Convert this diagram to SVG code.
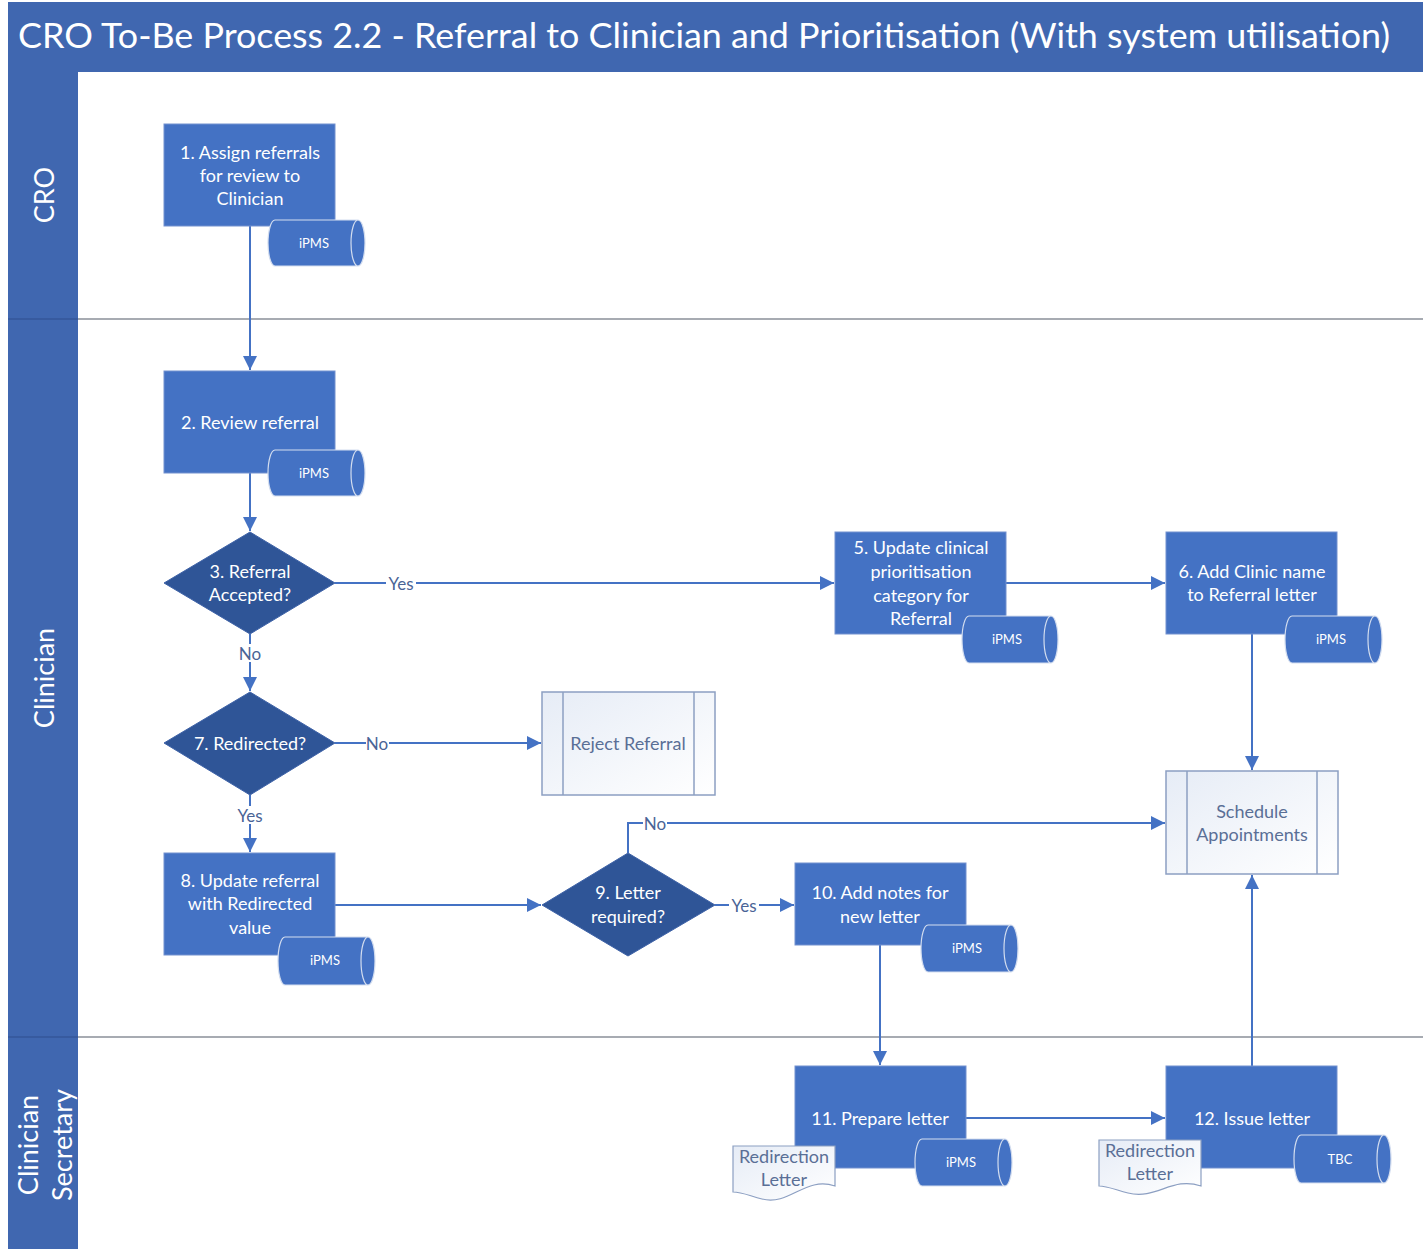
<svg xmlns="http://www.w3.org/2000/svg" width="1423" height="1249" viewBox="0 0 1423 1249">
  <defs>
    <style>
      .bar { fill: #4067b0; }
      .lane-line { stroke: #8a8f99; stroke-width: 1.5; fill: none; }
      .lane-edge { stroke: #34569a; stroke-width: 1.5; fill: none; }
      .title { font-family: Lato, "Liberation Sans", sans-serif; font-size: 34px; fill: #ffffff; }
      .lane-label { font-family: Lato, "Liberation Sans", sans-serif; font-size: 27px; fill: #ffffff; text-anchor: middle; dominant-baseline: central; }
      .proc { fill: #4472c4; stroke: #7391cf; stroke-width: 1; }
      .dec { fill: #2f5597; stroke: #3f63a8; stroke-width: 1; }
      .cyl { fill: #4472c4; stroke: #d3ddef; stroke-width: 1.2; fill-rule: nonzero; }
      .sub { fill: url(#pale); stroke: #8c9fc2; stroke-width: 1.5; }
      .doc { fill: url(#pale); stroke: #8c9fc2; stroke-width: 1.2; }
      .t { font-family: Lato, "Liberation Sans", sans-serif; font-size: 18px; fill: #ffffff; text-anchor: middle; dominant-baseline: central; }
      .ts { font-family: Lato, "Liberation Sans", sans-serif; font-size: 13px; fill: #ffffff; text-anchor: middle; dominant-baseline: central; }
      .tl { font-family: Lato, "Liberation Sans", sans-serif; font-size: 18px; fill: #5a6f96; text-anchor: middle; dominant-baseline: central; }
      .conn { stroke: #4472c4; stroke-width: 2; fill: none; }
      .clabel { font-family: Lato, "Liberation Sans", sans-serif; font-size: 17px; fill: #4a6496; text-anchor: middle; dominant-baseline: central; }
      .lbg { fill: #ffffff; }
    </style>
    <linearGradient id="pale" x1="0" y1="0" x2="1" y2="1">
      <stop offset="0" stop-color="#e6ecf6"/>
      <stop offset="1" stop-color="#ffffff"/>
    </linearGradient>
    <marker id="arrow" viewBox="0 0 10 10" refX="10" refY="5" markerWidth="7.5" markerHeight="7" markerUnits="strokeWidth" orient="auto">
      <path d="M0,0 L10,5 L0,10 Z" fill="#4472c4"/>
    </marker>
  </defs>

  <rect width="1423" height="1249" fill="#ffffff"/>

  <!-- Pool header and lane sidebar -->
  <g id="header">
    <rect class="bar" x="8" y="2" width="1415" height="70"/>
    <text class="title" x="18" y="48" textLength="1372" lengthAdjust="spacingAndGlyphs">CRO To-Be Process 2.2 - Referral to Clinician and Prioritisation (With system utilisation)</text>
  </g>
  <g id="lanes">
    <rect class="bar" x="8" y="72" width="70" height="1177"/>
    <line class="lane-line" x1="78" y1="319" x2="1423" y2="319"/>
    <line class="lane-line" x1="78" y1="1037" x2="1423" y2="1037"/>
    <line class="lane-edge" x1="8" y1="319" x2="78" y2="319"/>
    <line class="lane-edge" x1="8" y1="1037" x2="78" y2="1037"/>
    <text class="lane-label" transform="translate(43,195) rotate(-90)">CRO</text>
    <text class="lane-label" transform="translate(43,678) rotate(-90)">Clinician</text>
    <text class="lane-label" transform="translate(27,1145) rotate(-90)">Clinician</text>
    <text class="lane-label" transform="translate(61,1145) rotate(-90)">Secretary</text>
  </g>

  <!-- Connectors -->
  <g id="connectors">
    <path class="conn" d="M250,226 V370" marker-end="url(#arrow)"/>
    <path class="conn" d="M250,473 V531" marker-end="url(#arrow)"/>
    <path class="conn" d="M335,583 H834" marker-end="url(#arrow)"/>
    <path class="conn" d="M250,634 V691" marker-end="url(#arrow)"/>
    <path class="conn" d="M1006,583 H1165" marker-end="url(#arrow)"/>
    <path class="conn" d="M1252,634 V770" marker-end="url(#arrow)"/>
    <path class="conn" d="M335,743 H541" marker-end="url(#arrow)"/>
    <path class="conn" d="M250,795 V852" marker-end="url(#arrow)"/>
    <path class="conn" d="M335,905 H541" marker-end="url(#arrow)"/>
    <path class="conn" d="M715,905 H794" marker-end="url(#arrow)"/>
    <path class="conn" d="M628,853 V823 H1165" marker-end="url(#arrow)"/>
    <path class="conn" d="M880,945 V1065" marker-end="url(#arrow)"/>
    <path class="conn" d="M966,1118 H1165" marker-end="url(#arrow)"/>
    <path class="conn" d="M1252,1066 V875" marker-end="url(#arrow)"/>

    <rect class="lbg" x="386" y="574" width="30" height="18"/>
    <text class="clabel" x="401" y="583">Yes</text>
    <rect class="lbg" x="238" y="644" width="24" height="18"/>
    <text class="clabel" x="250" y="653">No</text>
    <rect class="lbg" x="366" y="734" width="23" height="18"/>
    <text class="clabel" x="377" y="743">No</text>
    <rect class="lbg" x="235" y="806" width="30" height="18"/>
    <text class="clabel" x="250" y="815">Yes</text>
    <rect class="lbg" x="729" y="896" width="30" height="18"/>
    <text class="clabel" x="744" y="905">Yes</text>
    <rect class="lbg" x="643" y="814" width="24" height="18"/>
    <text class="clabel" x="655" y="823">No</text>
  </g>

  <!-- 1 -->
  <g id="n1">
    <rect class="proc" x="164" y="124" width="171" height="102"/>
    <text class="t" x="250" y="152">1. Assign referrals</text>
    <text class="t" x="250" y="175">for review to</text>
    <text class="t" x="250" y="198">Clinician</text>
  </g>
  <g id="n1-sys">
    <path class="cyl" d="M275,220 H358 A7,23 0 0 1 358,266 H275 A7,23 0 0 1 275,220 Z M358,266 A7,23 0 0 1 358,220"/>
    <text class="ts" x="314" y="243">iPMS</text>
  </g>

  <!-- 2 -->
  <g id="n2">
    <rect class="proc" x="164" y="371" width="171" height="102"/>
    <text class="t" x="250" y="422">2. Review referral</text>
  </g>
  <g id="n2-sys">
    <path class="cyl" d="M275,450 H358 A7,23 0 0 1 358,496 H275 A7,23 0 0 1 275,450 Z M358,496 A7,23 0 0 1 358,450"/>
    <text class="ts" x="314" y="473">iPMS</text>
  </g>

  <!-- 3 -->
  <g id="n3">
    <polygon class="dec" points="164,583 250,532 335,583 250,634"/>
    <text class="t" x="250" y="571">3. Referral</text>
    <text class="t" x="250" y="594">Accepted?</text>
  </g>

  <!-- 5 -->
  <g id="n5">
    <rect class="proc" x="835" y="532" width="171" height="102"/>
    <text class="t" x="921" y="547">5. Update clinical</text>
    <text class="t" x="921" y="571">prioritisation</text>
    <text class="t" x="921" y="595">category for</text>
    <text class="t" x="921" y="618">Referral</text>
  </g>
  <g id="n5-sys">
    <path class="cyl" d="M969,616 H1051 A7,23.5 0 0 1 1051,663 H969 A7,23.5 0 0 1 969,616 Z M1051,663 A7,23.5 0 0 1 1051,616"/>
    <text class="ts" x="1007" y="639">iPMS</text>
  </g>

  <!-- 6 -->
  <g id="n6">
    <rect class="proc" x="1166" y="532" width="171" height="102"/>
    <text class="t" x="1252" y="571">6. Add Clinic name</text>
    <text class="t" x="1252" y="594">to Referral letter</text>
  </g>
  <g id="n6-sys">
    <path class="cyl" d="M1292,616 H1375 A7,23.5 0 0 1 1375,663 H1292 A7,23.5 0 0 1 1292,616 Z M1375,663 A7,23.5 0 0 1 1375,616"/>
    <text class="ts" x="1331" y="639">iPMS</text>
  </g>

  <!-- 7 -->
  <g id="n7">
    <polygon class="dec" points="164,743 250,692 335,743 250,795"/>
    <text class="t" x="250" y="743">7. Redirected?</text>
  </g>

  <!-- Reject Referral -->
  <g id="reject">
    <rect class="sub" x="542" y="692" width="173" height="103"/>
    <line class="sub" x1="563" y1="692" x2="563" y2="795"/>
    <line class="sub" x1="694" y1="692" x2="694" y2="795"/>
    <text class="tl" x="628" y="743">Reject Referral</text>
  </g>

  <!-- Schedule Appointments -->
  <g id="schedule">
    <rect class="sub" x="1166" y="771" width="172" height="103"/>
    <line class="sub" x1="1187" y1="771" x2="1187" y2="874"/>
    <line class="sub" x1="1317" y1="771" x2="1317" y2="874"/>
    <text class="tl" x="1252" y="811">Schedule</text>
    <text class="tl" x="1252" y="834">Appointments</text>
  </g>

  <!-- 8 -->
  <g id="n8">
    <rect class="proc" x="164" y="853" width="171" height="102"/>
    <text class="t" x="250" y="880">8. Update referral</text>
    <text class="t" x="250" y="903">with Redirected</text>
    <text class="t" x="250" y="927">value</text>
  </g>
  <g id="n8-sys">
    <path class="cyl" d="M285,937 H368 A7,24 0 0 1 368,985 H285 A7,24 0 0 1 285,937 Z M368,985 A7,24 0 0 1 368,937"/>
    <text class="ts" x="325" y="960">iPMS</text>
  </g>

  <!-- 9 -->
  <g id="n9">
    <polygon class="dec" points="542,905 628,853 715,905 628,956"/>
    <text class="t" x="628" y="892">9. Letter</text>
    <text class="t" x="628" y="916">required?</text>
  </g>

  <!-- 10 -->
  <g id="n10">
    <rect class="proc" x="795" y="863" width="171" height="82"/>
    <text class="t" x="880" y="892">10. Add notes for</text>
    <text class="t" x="880" y="916">new letter</text>
  </g>
  <g id="n10-sys">
    <path class="cyl" d="M928,925 H1011 A7,23.5 0 0 1 1011,972 H928 A7,23.5 0 0 1 928,925 Z M1011,972 A7,23.5 0 0 1 1011,925"/>
    <text class="ts" x="967" y="948">iPMS</text>
  </g>

  <!-- 11 -->
  <g id="n11">
    <rect class="proc" x="795" y="1066" width="171" height="102"/>
    <text class="t" x="880" y="1118">11. Prepare letter</text>
  </g>
  <g id="n11-sys">
    <path class="cyl" d="M922,1139 H1005 A7,23.5 0 0 1 1005,1186 H922 A7,23.5 0 0 1 922,1139 Z M1005,1186 A7,23.5 0 0 1 1005,1139"/>
    <text class="ts" x="961" y="1162">iPMS</text>
  </g>
  <g id="n11-doc">
    <path class="doc" d="M733,1146 H835 V1186 C805,1176 790,1206 762,1199 C750,1196 742,1192 733,1192 Z"/>
    <text class="tl" x="784" y="1156">Redirection</text>
    <text class="tl" x="784" y="1179">Letter</text>
  </g>

  <!-- 12 -->
  <g id="n12">
    <rect class="proc" x="1166" y="1066" width="171" height="102"/>
    <text class="t" x="1252" y="1118">12. Issue letter</text>
  </g>
  <g id="n12-sys">
    <path class="cyl" d="M1301,1135 H1384 A7,24 0 0 1 1384,1183 H1301 A7,24 0 0 1 1301,1135 Z M1384,1183 A7,24 0 0 1 1384,1135"/>
    <text class="ts" x="1340" y="1159">TBC</text>
  </g>
  <g id="n12-doc">
    <path class="doc" d="M1099,1140 H1201 V1186 C1172,1176 1157,1200 1128,1193 C1116,1190 1107,1186 1099,1186 Z"/>
    <text class="tl" x="1150" y="1150">Redirection</text>
    <text class="tl" x="1150" y="1173">Letter</text>
  </g>
</svg>
